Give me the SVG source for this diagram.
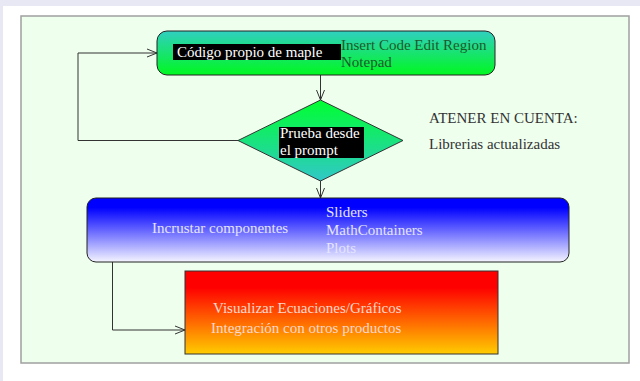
<svg xmlns="http://www.w3.org/2000/svg" width="640" height="381" viewBox="0 0 640 381">
<defs>
<linearGradient id="gGreen" x1="0" y1="0" x2="0" y2="1">
<stop offset="0" stop-color="#30cfc0"/><stop offset="1" stop-color="#00f820"/>
</linearGradient>
<linearGradient id="gDia" x1="0" y1="0" x2="0" y2="1">
<stop offset="0" stop-color="#00ff30"/><stop offset="1" stop-color="#30c8c8"/>
</linearGradient>
<linearGradient id="gBlue" x1="0" y1="0" x2="0" y2="1">
<stop offset="0" stop-color="#0000ff"/><stop offset="0.15" stop-color="#0000ff"/><stop offset="1" stop-color="#f4f4ff"/>
</linearGradient>
<linearGradient id="gRed" x1="0" y1="0" x2="0" y2="1">
<stop offset="0" stop-color="#ff0000"/><stop offset="0.2" stop-color="#ff0000"/><stop offset="1" stop-color="#ffcc00"/>
</linearGradient>
<marker id="arr" viewBox="0 0 12 10" refX="11" refY="5" markerWidth="12" markerHeight="10" markerUnits="userSpaceOnUse" orient="auto">
<path d="M1,1 L11,5 L1,9" fill="none" stroke="#333" stroke-width="1"/>
</marker>
</defs>
<style>
text{font-family:"Liberation Serif","Times New Roman",serif;font-size:15px}
.w{fill:#ffffff}
.dg{fill:#1c5a2c}
.k{fill:#333333}
.lb{fill:#e4e4ff}
.pk{fill:#ffd8d0}
.c{fill:none;stroke:#333;stroke-width:1}
</style>
<rect width="640" height="381" fill="#e8e8f4"/>
<rect x="3" y="6" width="637" height="375" fill="#ffffff"/>
<rect x="21" y="16" width="608" height="347" fill="#eeffee" stroke="#a0a0a0" stroke-width="1.5"/>
<g id="connectors">
<path class="c" d="M320.5,75 V100" marker-end="url(#arr)"/>
<path class="c" d="M238,140.5 H78 V53 H157" marker-end="url(#arr)"/>
<path class="c" d="M320.5,180 V198" marker-end="url(#arr)"/>
<path class="c" d="M112.5,262 V330 H185" marker-end="url(#arr)"/>
</g>
<g id="node-codigo">
<rect x="157" y="31" width="338" height="44" rx="10" fill="url(#gGreen)" stroke="#222" stroke-width="1"/>
<rect x="173" y="44" width="168" height="16" fill="#000"/>
<text x="177" y="57" class="w">Código propio de maple</text>
<text x="341" y="50" class="dg">Insert Code Edit Region</text>
<text x="341" y="67" class="dg">Notepad</text>
</g>
<g id="node-prueba">
<polygon points="320.5,100 403,140.5 320.5,181 238,140.5" fill="url(#gDia)" stroke="#333" stroke-width="1"/>
<rect x="279" y="127" width="85" height="31" fill="#000"/>
<text x="280" y="138" class="w">Prueba desde</text>
<text x="280" y="155" class="w">el prompt</text>
</g>
<g id="note">
<text x="429" y="123" class="k">ATENER EN CUENTA:</text>
<text x="429" y="149" class="k">Librerias actualizadas</text>
</g>
<g id="node-incrustar">
<rect x="87" y="198" width="482" height="64" rx="9" fill="url(#gBlue)" stroke="#222" stroke-width="1"/>
<text x="152" y="233" class="lb">Incrustar componentes</text>
<text x="326" y="217" class="lb">Sliders</text>
<text x="326" y="235" class="lb">MathContainers</text>
<text x="326" y="253" class="lb">Plots</text>
</g>
<g id="node-visualizar">
<rect x="185" y="271" width="313" height="83" fill="url(#gRed)" stroke="#333" stroke-width="1"/>
<text x="213" y="313" class="pk">Visualizar Ecuaciones/Gráficos</text>
<text x="211" y="333" class="pk">Integración con otros productos</text>
</g>
</svg>
